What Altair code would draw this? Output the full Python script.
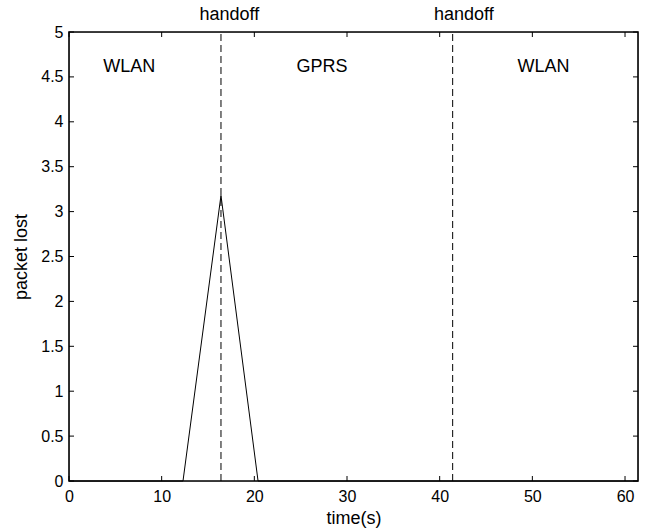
import altair as alt
import pandas as pd

# data
time_s = [0, 12.3, 16.4, 20.4, 61.4]
packet_lost = [0, 0, 3.18, 0, 0]

handoff_times = [16.4, 41.4]

label_texts = ["WLAN", "GPRS", "WLAN"]
label_x = [6.5, 27.3, 51.2]
label_y = [4.61, 4.61, 4.61]

handoff_label_x = [17.3, 42.6]
handoff_label_y = [5.19, 5.19]

x_ticks = [0, 10, 20, 30, 40, 50, 60]
y_ticks = [0, 0.5, 1, 1.5, 2, 2.5, 3, 3.5, 4, 4.5, 5]

W, H = 569, 449
FONT = "Liberation Sans"

xs = alt.Scale(domain=[0, 61.4], nice=False, zero=False)
ys = alt.Scale(domain=[0, 5], nice=False)

df = pd.DataFrame({"t": time_s, "p": packet_lost})
dh = pd.DataFrame({"t": handoff_times, "y0": [0, 0], "y1": [5, 5]})
dl = pd.DataFrame({"t": label_x, "y": label_y, "txt": label_texts})
dhl = pd.DataFrame({"t": handoff_label_x, "y": handoff_label_y, "txt": ["handoff", "handoff"]})
dxt = pd.DataFrame({"t": x_ticks})
dyt = pd.DataFrame({"v": y_ticks})
dframe = pd.DataFrame({"k": [1]})

x_axis = alt.Axis(values=x_ticks, title="time(s)", domain=False, ticks=False, grid=False,
                  labelFont=FONT, labelFontSize=16, labelColor="black", labelPadding=7,
                  labelFlush=False,
                  titleFont=FONT, titleFontSize=18, titleFontWeight="normal", titleColor="black",
                  titlePadding=5)
y_axis = alt.Axis(values=y_ticks, title="packet lost", domain=False, ticks=False, grid=False,
                  labelFont=FONT, labelFontSize=16, labelColor="black", labelPadding=6,
                  labelFlush=False,
                  titleFont=FONT, titleFontSize=18, titleFontWeight="normal", titleColor="black",
                  titlePadding=10, labelExpr="datum.value")

line = alt.Chart(df).mark_line(color="black", strokeWidth=1).encode(
    x=alt.X("t:Q", scale=xs, axis=x_axis),
    y=alt.Y("p:Q", scale=ys, axis=y_axis),
)

dashed = alt.Chart(dh).mark_rule(color="black", strokeWidth=1, strokeDash=[7, 4]).encode(
    x=alt.X("t:Q", scale=xs),
    y=alt.Y("y0:Q", scale=ys),
    y2="y1:Q",
)

labels = alt.Chart(dl).mark_text(font=FONT, fontSize=18, color="black", align="center",
                                 baseline="middle").encode(
    x=alt.X("t:Q", scale=xs), y=alt.Y("y:Q", scale=ys), text="txt:N")

hlabels = alt.Chart(dhl).mark_text(font=FONT, fontSize=18, color="black", align="center",
                                   baseline="middle", clip=False).encode(
    x=alt.X("t:Q", scale=xs), y=alt.Y("y:Q", scale=ys), text="txt:N")

tick_bottom = alt.Chart(dxt).mark_rule(color="black", strokeWidth=1).encode(
    x=alt.X("t:Q", scale=xs), y=alt.value(H), y2=alt.value(H - 5))
tick_top = alt.Chart(dxt).mark_rule(color="black", strokeWidth=1).encode(
    x=alt.X("t:Q", scale=xs), y=alt.value(0), y2=alt.value(5))
tick_left = alt.Chart(dyt).mark_rule(color="black", strokeWidth=1).encode(
    y=alt.Y("v:Q", scale=ys), x=alt.value(0), x2=alt.value(5))
tick_right = alt.Chart(dyt).mark_rule(color="black", strokeWidth=1).encode(
    y=alt.Y("v:Q", scale=ys), x=alt.value(W), x2=alt.value(W - 5))

frame = alt.Chart(dframe).mark_rect(fill=None, fillOpacity=0, stroke="black", strokeWidth=1.6).encode(
    x=alt.value(0), x2=alt.value(W), y=alt.value(0), y2=alt.value(H))

chart = alt.layer(line, dashed, labels, hlabels, tick_bottom, tick_top, tick_left, tick_right, frame).properties(
    width=W, height=H,
    autosize=alt.AutoSizeParams(type="none"),
    padding={"left": 69, "top": 32, "right": 12, "bottom": 51},
).configure_view(stroke=None).configure(background="white")

chart.save("out.html", embed_options={"renderer": "svg", "actions": False})
